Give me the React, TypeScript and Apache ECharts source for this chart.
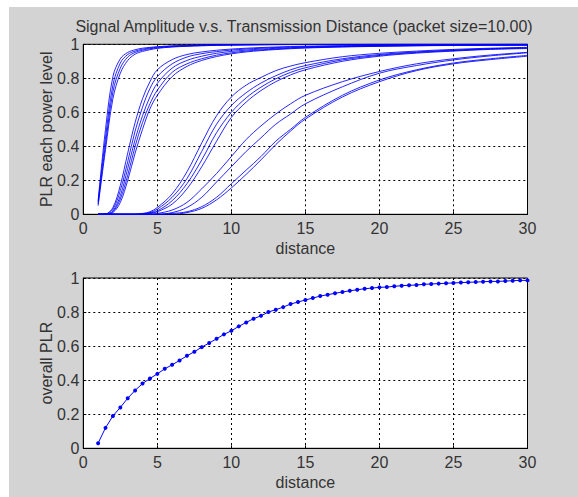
import React, { useEffect, useRef } from "react";
import * as echarts from "echarts";

const NARROW = "'Liberation Sans Narrow', 'Arial Narrow', 'Liberation Sans', Arial, sans-serif";
const REGULAR = "'Liberation Sans', Arial, sans-serif";

const titleText = "Signal Amplitude v.s. Transmission Distance (packet size=10.00)";
const xTicks = [0, 5, 10, 15, 20, 25, 30];

// Top plot: distances at which each power-level curve was read
const distance = [1, 1.5, 2, 2.5, 3, 3.5, 4, 4.5, 5, 6, 7, 8, 9, 10, 11, 12, 13, 14, 15, 17.5, 20, 22.5, 25, 27.5, 30];

const plr1a = [0.08, 0.5, 0.81, 0.915, 0.952, 0.968, 0.977, 0.982, 0.986, 0.991, 0.994, 0.996, 0.997, 0.998, 0.998, 0.999, 0.999, 0.999, 0.999, 1, 1, 1, 1, 1, 1];
const plr1b = [0.07, 0.45, 0.76, 0.89, 0.94, 0.96, 0.971, 0.978, 0.983, 0.989, 0.992, 0.994, 0.996, 0.997, 0.998, 0.998, 0.999, 0.999, 0.999, 0.999, 1, 1, 1, 1, 1];
const plr1c = [0.06, 0.41, 0.72, 0.86, 0.925, 0.952, 0.965, 0.974, 0.979, 0.986, 0.99, 0.993, 0.995, 0.996, 0.997, 0.998, 0.998, 0.999, 0.999, 0.999, 1, 1, 1, 1, 1];
const plr1d = [0.05, 0.38, 0.68, 0.83, 0.905, 0.942, 0.958, 0.968, 0.976, 0.984, 0.988, 0.991, 0.994, 0.995, 0.996, 0.997, 0.998, 0.998, 0.999, 0.999, 0.999, 1, 1, 1, 1];

const plr2a = [0, 0.002, 0.04, 0.17, 0.36, 0.54, 0.68, 0.78, 0.85, 0.91, 0.94, 0.955, 0.965, 0.972, 0.977, 0.981, 0.984, 0.987, 0.989, 0.992, 0.994, 0.996, 0.997, 0.998, 0.998];
const plr2b = [0, 0.001, 0.03, 0.14, 0.31, 0.49, 0.63, 0.74, 0.81, 0.885, 0.925, 0.945, 0.957, 0.966, 0.972, 0.977, 0.981, 0.984, 0.986, 0.99, 0.993, 0.995, 0.996, 0.997, 0.997];
const plr2c = [0, 0, 0.02, 0.11, 0.27, 0.44, 0.58, 0.69, 0.77, 0.86, 0.905, 0.93, 0.947, 0.958, 0.966, 0.972, 0.976, 0.98, 0.983, 0.988, 0.991, 0.993, 0.995, 0.996, 0.996];
const plr2d = [0, 0, 0.015, 0.09, 0.23, 0.4, 0.54, 0.65, 0.73, 0.835, 0.885, 0.915, 0.936, 0.95, 0.96, 0.967, 0.972, 0.977, 0.98, 0.986, 0.989, 0.992, 0.994, 0.995, 0.995];
const plr2e = [0, 0, 0.01, 0.07, 0.2, 0.36, 0.5, 0.62, 0.7, 0.81, 0.87, 0.905, 0.928, 0.944, 0.955, 0.963, 0.969, 0.974, 0.978, 0.984, 0.988, 0.991, 0.993, 0.994, 0.995];

const plr3a = [0, 0, 0, 0, 0, 0, 0.005, 0.015, 0.04, 0.12, 0.25, 0.42, 0.58, 0.69, 0.76, 0.805, 0.845, 0.872, 0.892, 0.927, 0.947, 0.96, 0.97, 0.977, 0.982];
const plr3b = [0, 0, 0, 0, 0, 0, 0.003, 0.01, 0.03, 0.1, 0.21, 0.37, 0.53, 0.64, 0.715, 0.772, 0.815, 0.85, 0.875, 0.915, 0.94, 0.955, 0.966, 0.974, 0.98];
const plr3c = [0, 0, 0, 0, 0, 0, 0.002, 0.008, 0.02, 0.08, 0.18, 0.32, 0.48, 0.6, 0.685, 0.748, 0.797, 0.835, 0.862, 0.908, 0.935, 0.952, 0.963, 0.972, 0.977];
const plr3d = [0, 0, 0, 0, 0, 0, 0.001, 0.005, 0.015, 0.06, 0.15, 0.28, 0.43, 0.57, 0.66, 0.728, 0.78, 0.82, 0.85, 0.9, 0.93, 0.948, 0.96, 0.97, 0.975];

const plr4a = [0, 0, 0, 0, 0, 0, 0, 0, 0.005, 0.025, 0.07, 0.15, 0.24, 0.34, 0.44, 0.52, 0.59, 0.65, 0.7, 0.78, 0.84, 0.885, 0.915, 0.937, 0.953];
const plr4b = [0, 0, 0, 0, 0, 0, 0, 0, 0, 0.01, 0.04, 0.1, 0.19, 0.28, 0.37, 0.45, 0.53, 0.59, 0.65, 0.75, 0.83, 0.875, 0.908, 0.932, 0.95];
const plr4c = [0, 0, 0, 0, 0, 0, 0, 0, 0, 0.005, 0.015, 0.045, 0.1, 0.18, 0.26, 0.34, 0.43, 0.5, 0.57, 0.7, 0.79, 0.85, 0.89, 0.915, 0.935];
const plr4d = [0, 0, 0, 0, 0, 0, 0, 0, 0, 0, 0.01, 0.035, 0.085, 0.155, 0.235, 0.32, 0.41, 0.49, 0.56, 0.69, 0.78, 0.845, 0.885, 0.91, 0.93];

const powerCurves = [
  plr1a, plr1b, plr1c, plr1d,
  plr2a, plr2b, plr2c, plr2d, plr2e,
  plr3a, plr3b, plr3c, plr3d,
  plr4a, plr4b, plr4c, plr4d,
];

// Bottom plot: overall PLR
const overallDistance = [
  1, 1.5, 2, 2.5, 3, 3.5, 4, 4.5, 5, 5.5, 6, 6.5, 7, 7.5, 8, 8.5, 9, 9.5, 10, 10.5,
  11, 11.5, 12, 12.5, 13, 13.5, 14, 14.5, 15, 15.5, 16, 16.5, 17, 17.5, 18, 18.5, 19, 19.5, 20, 20.5,
  21, 21.5, 22, 22.5, 23, 23.5, 24, 24.5, 25, 25.5, 26, 26.5, 27, 27.5, 28, 28.5, 29, 29.5, 30,
];
const overallPLR = [
  0.03, 0.12, 0.19, 0.24, 0.294, 0.34, 0.38, 0.41, 0.437, 0.467, 0.49, 0.516, 0.543, 0.567, 0.594, 0.618, 0.643, 0.669, 0.69, 0.716,
  0.739, 0.761, 0.778, 0.8, 0.814, 0.829, 0.847, 0.859, 0.871, 0.882, 0.894, 0.902, 0.91, 0.918, 0.925, 0.931, 0.937, 0.941, 0.945, 0.947,
  0.951, 0.955, 0.957, 0.959, 0.963, 0.965, 0.967, 0.969, 0.971, 0.973, 0.975, 0.976, 0.978, 0.98, 0.98, 0.982, 0.984, 0.986, 0.986,
];

const BLUE = "#0000ff";
const TEXT = "#333";

function xAxisCfg(gridIndex: number) {
  return {
    type: "value" as const,
    gridIndex,
    min: xTicks[0],
    max: xTicks[xTicks.length - 1],
    interval: 5,
    name: "distance",
    nameLocation: "middle" as const,
    nameGap: 26,
    nameMoveOverlap: false,
    nameTextStyle: { fontFamily: NARROW, fontSize: 16, color: TEXT },
    axisLine: { show: true, lineStyle: { color: "#000", width: 1 } },
    axisTick: { show: true, inside: true, length: 3, lineStyle: { color: "#000" } },
    axisLabel: { fontFamily: NARROW, fontSize: 16, color: TEXT, margin: 6 },
    splitLine: { show: true, lineStyle: { color: "#000", width: 1, type: [2, 3] } },
  };
}

function yAxisCfg(gridIndex: number, name: string) {
  return {
    type: "value" as const,
    gridIndex,
    min: 0,
    max: 1,
    interval: 0.2,
    name,
    nameLocation: "middle" as const,
    nameGap: 29,
    nameMoveOverlap: false,
    nameTextStyle: { fontFamily: REGULAR, fontSize: 16, color: TEXT },
    axisLine: { show: true, lineStyle: { color: "#000", width: 1 } },
    axisTick: { show: true, inside: true, length: 3, lineStyle: { color: "#000" } },
    axisLabel: { fontFamily: NARROW, fontSize: 16, color: TEXT, margin: 4 },
    splitLine: { show: true, lineStyle: { color: "#000", width: 1, type: [2, 3] } },
  };
}

export default function App() {
  const ref = useRef<HTMLDivElement>(null);

  useEffect(() => {
    document.body.style.margin = "0";
    if (!ref.current) return;
    const chart = echarts.init(ref.current, undefined, { renderer: "svg" });

    const topSeries = powerCurves.map((curve, k) => ({
      type: "line" as const,
      name: "level " + (k + 1),
      xAxisIndex: 0,
      yAxisIndex: 0,
      data: distance.map((d, i) => [d, curve[i]]),
      showSymbol: false,
      symbol: "none",
      smooth: 0.35,
      lineStyle: { color: BLUE, width: 1, opacity: 0.85 },
      silent: true,
    }));

    const option = {
      animation: false,
      backgroundColor: "#d3d3d3",
      title: {
        text: titleText,
        left: 295,
        top: 11,
        textAlign: "center" as const,
        padding: 0,
        textStyle: { fontFamily: NARROW, fontSize: 16, fontWeight: "normal" as const, color: TEXT },
      },
      grid: [
        { left: 74.3, top: 37.3, width: 444.2, height: 170, show: true, backgroundColor: "#fff", borderColor: "#000", borderWidth: 1 },
        { left: 74.3, top: 271, width: 444.2, height: 170.3, show: true, backgroundColor: "#fff", borderColor: "#000", borderWidth: 1 },
      ],
      xAxis: [xAxisCfg(0), xAxisCfg(1)],
      yAxis: [yAxisCfg(0, "PLR each power level"), yAxisCfg(1, "overall PLR")],
      series: [
        ...topSeries,
        {
          type: "line" as const,
          name: "overall PLR",
          xAxisIndex: 1,
          yAxisIndex: 1,
          data: overallDistance.map((d, i) => [d, overallPLR[i]]),
          symbol: "circle",
          symbolSize: 4,
          showSymbol: true,
          itemStyle: { color: BLUE },
          lineStyle: { color: BLUE, width: 1 },
          silent: true,
        },
      ],
    };

    chart.setOption(option);
    return () => chart.dispose();
  }, []);

  return (
    <div style={{ width: 578, height: 497, background: "#fff", position: "relative", overflow: "hidden" }}>
      <div
        ref={ref}
        style={{ position: "absolute", left: 9, top: 7, width: 569, height: 490, background: "#d3d3d3" }}
      />
    </div>
  );
}
